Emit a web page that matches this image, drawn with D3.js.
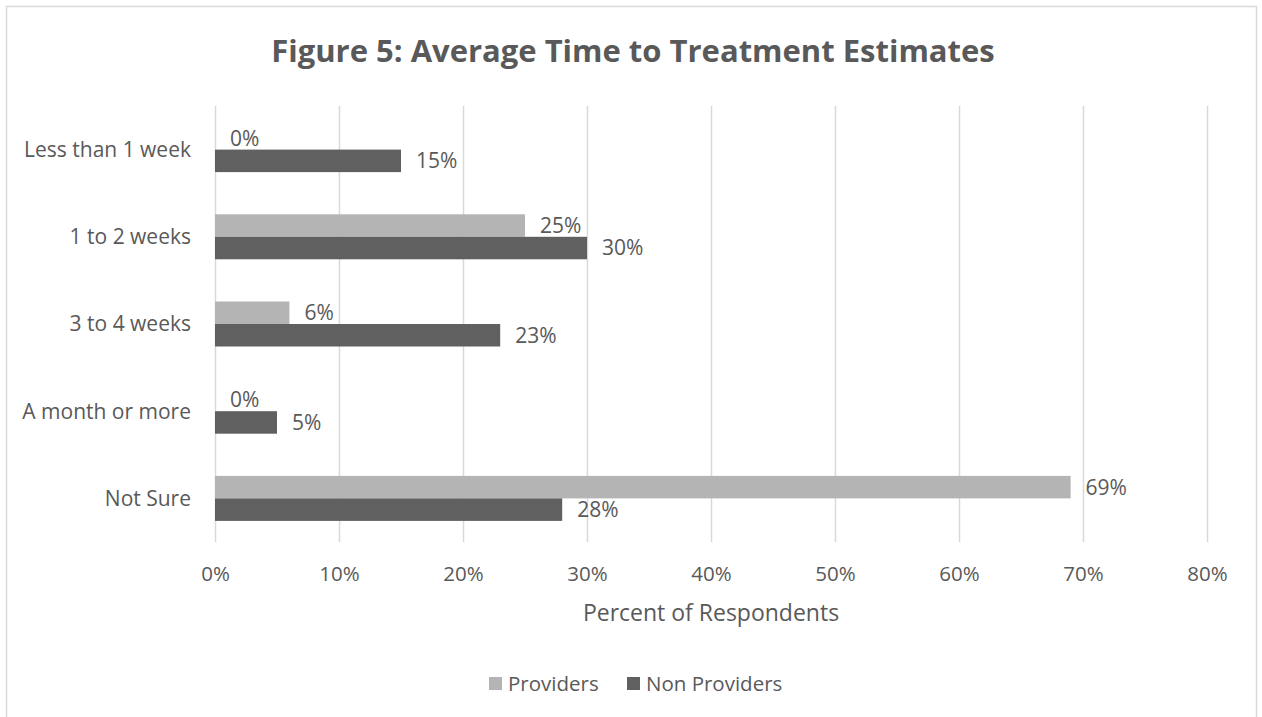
<!DOCTYPE html>
<meta charset="utf-8">
<head>
  <title>Figure 5: Average Time to Treatment Estimates</title>
  <script src="https://d3js.org/d3.v7.min.js"></script>
  <style>
    body {
      margin: 0;
      background: #fff;
      font-family: "Open Sans", "Noto Sans", sans-serif;
    }
    .grid line {
      stroke: #d9d9d9;
      stroke-width: 1.5;
    }
    .grid .domain {
      display: none;
    }
    .x-axis .domain {
      display: none;
    }
    .x-axis text {
      fill: #595959;
      font-size: 20.5px;
      font-family: "Open Sans", "Noto Sans", sans-serif;
    }
    .cat-label, .bar-label {
      fill: #595959;
      font-size: 21px;
    }
    .legend text {
      fill: #595959;
      font-size: 20.5px;
    }
  </style>
</head>
<body>
  <script>
    // Chart data
    var categories = ["Less than 1 week", "1 to 2 weeks", "3 to 4 weeks", "A month or more", "Not Sure"];
    var series = ["Providers", "Non Providers"];
    var providers = [0, 25, 6, 0, 69];
    var nonProviders = [15, 30, 23, 5, 28];
    var xTicks = [0, 10, 20, 30, 40, 50, 60, 70, 80];

    var colors = { "Providers": "#b4b4b4", "Non Providers": "#606060" };

    var width = 1262;
    var height = 717;

    // Plot area
    var plotLeft = 215, plotRight = 1207, plotTop = 106, plotBottom = 542;

    var svg = d3.select("body").append("svg")
      .attr("width", width)
      .attr("height", height);

    // Chart border (bottom edge runs off the page)
    svg.append("rect")
      .attr("x", 6.5)
      .attr("y", 6.5)
      .attr("width", 1250)
      .attr("height", 730)
      .attr("fill", "none")
      .attr("stroke", "#d9d9d9")
      .attr("stroke-width", 1.5);

    // Title
    svg.append("text")
      .attr("x", 633)
      .attr("y", 62)
      .attr("text-anchor", "middle")
      .style("font-size", "31px")
      .style("font-weight", "bold")
      .style("fill", "#595959")
      .text("Figure 5: Average Time to Treatment Estimates");

    var x = d3.scaleLinear().domain([0, 80]).range([plotLeft, plotRight]);

    var y0 = d3.scaleBand()
      .domain(categories)
      .range([plotTop, plotBottom])
      .paddingInner(0.484)
      .paddingOuter(0.242);

    var y1 = d3.scaleBand()
      .domain(series)
      .range([0, y0.bandwidth()]);

    // Vertical gridlines
    svg.append("g")
      .attr("class", "grid")
      .attr("transform", "translate(0," + plotBottom + ")")
      .call(d3.axisBottom(x).tickValues(xTicks).tickSize(-(plotBottom - plotTop)).tickFormat(""));

    // X axis labels
    svg.append("g")
      .attr("class", "x-axis")
      .attr("transform", "translate(0," + (plotBottom + 18) + ")")
      .call(d3.axisBottom(x).tickValues(xTicks).tickSize(0).tickFormat(function(d) { return d + "%"; }))
      .attr("font-family", null)
      .attr("font-size", null)
      .selectAll("text")
        .attr("dy", "0.9em");

    // Axis title
    svg.append("text")
      .attr("x", (plotLeft + plotRight) / 2)
      .attr("y", 621)
      .attr("text-anchor", "middle")
      .style("font-size", "23px")
      .style("fill", "#595959")
      .text("Percent of Respondents");

    // Category labels
    svg.selectAll(".cat-label")
      .data(categories)
      .enter().append("text")
      .attr("class", "cat-label")
      .attr("x", 191)
      .attr("y", function(d) { return y0(d) + y0.bandwidth() / 2; })
      .attr("dy", "0.35em")
      .attr("text-anchor", "end")
      .text(function(d) { return d; });

    // Build rows
    var rows = categories.map(function(c, i) {
      return { category: c, values: [
        { key: "Providers", value: providers[i] },
        { key: "Non Providers", value: nonProviders[i] }
      ]};
    });

    var groups = svg.selectAll(".group")
      .data(rows)
      .enter().append("g")
      .attr("class", "group")
      .attr("transform", function(d) { return "translate(0," + y0(d.category) + ")"; });

    groups.selectAll("rect")
      .data(function(d) { return d.values; })
      .enter().append("rect")
      .attr("x", x(0))
      .attr("y", function(d) { return y1(d.key); })
      .attr("width", function(d) { return x(d.value) - x(0); })
      .attr("height", y1.bandwidth())
      .attr("fill", function(d) { return colors[d.key]; });

    groups.selectAll(".bar-label")
      .data(function(d) { return d.values; })
      .enter().append("text")
      .attr("class", "bar-label")
      .attr("x", function(d) { return x(d.value) + 15; })
      .attr("y", function(d) { return y1(d.key) + y1.bandwidth() / 2; })
      .attr("dy", "0.35em")
      .text(function(d) { return d.value + "%"; });

    // Legend
    var legend = svg.append("g").attr("class", "legend");
    var legendX = [489, 627];
    series.forEach(function(s, i) {
      legend.append("rect")
        .attr("x", legendX[i])
        .attr("y", 677)
        .attr("width", 13)
        .attr("height", 13)
        .attr("fill", colors[s]);
      legend.append("text")
        .attr("x", legendX[i] + 19)
        .attr("y", 684)
        .attr("dy", "0.35em")
        .text(s);
    });
  </script>
</body>
</html>
